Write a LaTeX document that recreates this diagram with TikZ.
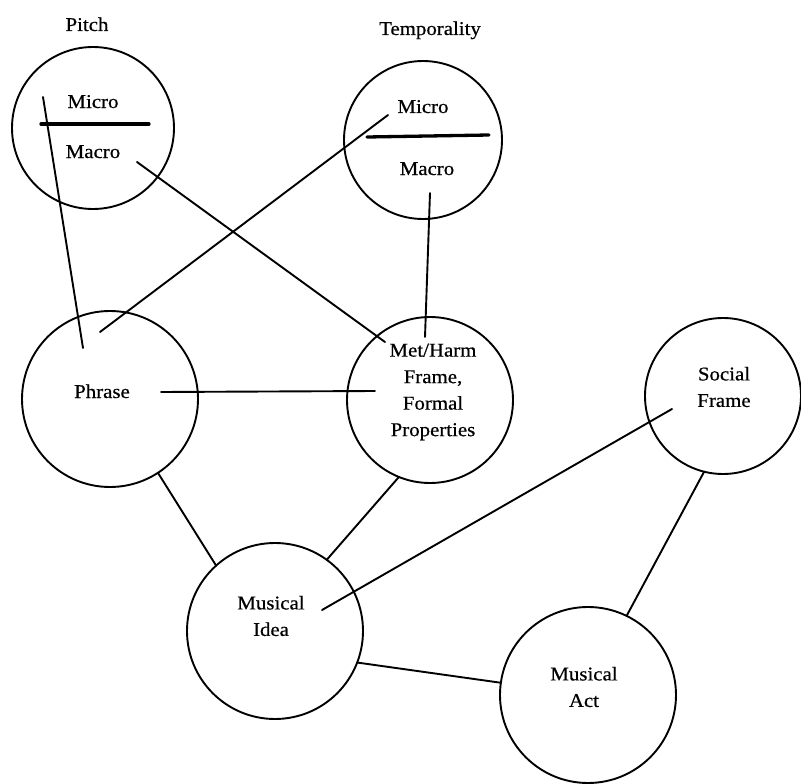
\documentclass[tikz,border=0pt]{standalone}
\usepackage{fontspec}
\newfontfamily\diagfont{Liberation Serif}[FakeStretch=1.07,FakeBold=0.5]
\begin{document}
\begin{tikzpicture}[x=1pt,y=-1pt,
  bubble/.style={circle,draw=black,line width=1.9pt,inner sep=0pt,outer sep=0pt,minimum size=#1},
  words/.style={inner sep=0pt,font=\diagfont\fontsize{19.5}{26.5}\selectfont,align=center},
  word/.style={inner sep=0pt,font=\diagfont\fontsize{19.5}{26.5}\selectfont,anchor=base},
  link/.style={line width=1.9pt,line cap=round},
  divider/.style={line width=3.3pt,line cap=round}]
\useasboundingbox (0,0) rectangle (801,784);
\fill[white] (0,0) rectangle (801,784);

% circles
\node[bubble=162pt] (pitch)  at (93,128)  {};
\node[bubble=158pt] (temp)   at (423,140) {};
\node[bubble=176pt] (phrase) at (110,399) {};
\node[bubble=166pt] (frame)  at (430,400) {};
\node[bubble=156pt] (social) at (723,396) {};
\node[bubble=176pt] (idea)   at (275,631) {};
\node[bubble=176pt] (act)    at (588,695) {};

% headings and labels
\node[word] (pitchT)  at (87,31)   {Pitch};
\node[word] (tempT)   at (430,35)  {Temporality};
\node[word] (pmicro)  at (93,108)  {Micro};
\node[word] (pmacro)  at (93,158)  {Macro};
\node[word] (tmicro)  at (423,113) {Micro};
\node[word] (tmacro)  at (427,175) {Macro};
\node[word] (phraseT) at (102,398) {Phrase};
\node[words] (frameT)  at (433,392) {Met/Harm\\Frame,\\Formal\\Properties};
\node[words] (socialT) at (724,387) {Social\\Frame};
\node[words] (ideaT)   at (271,616) {Musical\\Idea};
\node[words] (actT)    at (584,687) {Musical\\Act};

% micro/macro dividers
\coordinate (pd1) at (41,124);  \coordinate (pd2) at (149,124);
\coordinate (td1) at (367,137); \coordinate (td2) at (489,135);
\draw[divider] (pd1) -- (pd2);
\draw[divider] (td1) -- (td2);

% inner end points of the crossing links
\coordinate (p1) at (43,97);   \coordinate (p2) at (83,348);
\coordinate (q1) at (100,332); \coordinate (q2) at (388,115);
\coordinate (r1) at (137,162); \coordinate (r2) at (385,342);
\coordinate (s1) at (430,193); \coordinate (s2) at (425,337);
\coordinate (h1) at (161,392); \coordinate (h2) at (375,391);
\coordinate (m1) at (322,610); \coordinate (m2) at (672,409);

\draw[link] (p1) -- (p2);
\draw[link] (q1) -- (q2);
\draw[link] (r1) -- (r2);
\draw[link] (s1) -- (s2);
\draw[link] (h1) -- (h2);
\draw[link] (m1) -- (m2);

% border-to-border links
\draw[link] (phrase.-57.6) -- (idea.132.2);
\draw[link] (frame.-112.6) -- (idea.54.5);
\draw[link] (idea.-21.1) -- (act.172.2);
\draw[link] (social.-104.4) -- (act.64);
\end{tikzpicture}
\end{document}
